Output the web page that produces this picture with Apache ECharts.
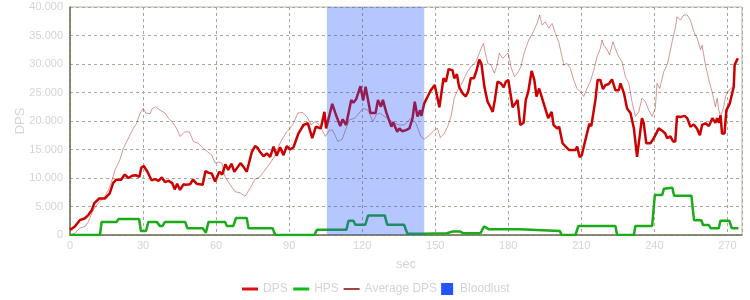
<!DOCTYPE html>
<html>
<head>
<meta charset="utf-8">
<script src="https://cdn.jsdelivr.net/npm/echarts@6/dist/echarts.min.js"></script>
<style>html,body{margin:0;padding:0;background:#fff}#c{width:750px;height:300px}</style>
</head>
<body>
<div id="c"></div>
<script>
// ---- data ----
var dpsSec = [0,2,4,6,7.5,9,10,12,14.3,16.3,17.7,19,21,22.5,24,25.5,27,28.5,29.3,30.3,31.8,33.5,35,36.3,37.7,39,40.5,42,43,44,45.2,46.6,47.5,49.3,50.5,52,54.5,55.6,57,58.2,59.6,61.3,62.5,63.8,65,66.3,67.5,69,70,71.2,72.6,74.7,76,77.2,78,79.5,80.8,82.2,83.6,84.9,86.3,87.7,89,90.4,91.8,93.8,95.9,97.7,99.5,101,103,104.5,105.2,107.7,109.3,111,112,113.4,115.5,116.4,117.5,119.3,120.4,121.4,123.4,125.5,126.5,127.7,128.5,129.9,132,132.7,134.4,135.3,136.4,138,139.4,140.7,141.6,142.7,143.8,144.3,145.5,146.9,148.2,149.8,151.7,153.4,154.4,155.5,157.1,157.8,158.9,159.8,161.2,162.5,163.5,164.6,165.9,167,168.1,169,170.2,171.5,172.6,173.6,174.5,175.6,177,178.1,179,180,180.8,181.8,182.9,183.8,184.9,186.3,187.2,188.2,189.6,190.7,191.6,192.7,194.1,195.4,196.4,197.8,198.6,200,200.9,202.3,203.6,205,206.2,207.6,208.3,209.3,210.2,211.3,212.1,213.3,214.1,215.8,216.7,217.8,218.9,219.9,221.3,222.6,224,225.4,226.1,227.5,228.8,230.2,231.6,232.9,234.9,235.6,236.7,238.4,239.8,241.8,243.2,244.5,245.2,246.6,247.7,248.6,249.3,250.7,252.4,253.5,254.8,256.2,257.5,258.7,259.6,261,262.4,263.8,265.1,265.8,266.5,267.2,267.8,268.8,269.6,271,272.6,273,274.3];
var dpsVal = [900,1500,2600,2900,3500,4400,5600,6400,6400,7300,9100,9700,9700,10600,10000,10400,10500,10200,11800,12100,11100,9600,9800,9500,10100,9300,9500,9100,8000,9000,7900,8900,8800,8900,9700,9000,8800,11200,10900,10800,9400,11100,10600,12400,11400,12500,11100,12000,12600,12000,11100,14600,15600,15200,14600,13800,14300,13700,15500,13900,15400,14000,15600,15000,15400,17800,19300,19600,17000,19000,18700,21600,18700,23000,21000,19100,20300,19300,23700,23200,23800,26100,23600,26000,21400,21400,23700,22500,23700,21500,19000,19800,18100,18700,18200,18400,18700,20500,23400,20800,21900,20900,23100,24300,25400,26300,22400,27500,26900,29100,28900,27500,28200,26000,24900,24300,25100,27500,27500,28900,30800,30000,26000,23400,22500,21600,23700,26900,26600,25900,26900,27200,25100,22400,23100,23700,19300,19700,23700,25100,28800,27200,24300,25700,23700,21900,20500,21600,19300,18700,19000,16100,15500,14900,14900,14900,15500,13700,14000,16000,15700,19500,19100,23700,27200,27200,25600,26300,26500,27300,25400,25400,26600,24900,22200,21400,18700,13700,20500,19700,16100,16100,17000,18700,18300,17800,17000,17300,16400,16400,20800,20700,20900,20500,19000,19400,18700,17500,19300,19600,19100,20500,19700,20500,19700,21000,17800,17800,21900,23100,26000,29900,31000];

var hpsSec = [0,12.3,13,19.2,19.9,28.4,29.1,31.2,32.2,35.6,36.9,38,39,47.3,48.2,54.5,55.8,56.9,63.7,64.4,67.1,68.2,72.6,73.3,83.2,84.3,100.4,101.4,113.5,114.4,116.4,117.2,121.3,122.4,129.3,129.6,130.3,137.2,138.6,145,154.8,156.9,160.3,161.6,168.6,170,172.1,184.5,185.3,201.2,201.9,207.6,208.8,224,224.7,231.6,232.2,239.1,240.2,243.2,243.9,247.4,248.1,255.2,256.3,259.3,260,262.4,263.1,266.5,267.1,270.8,271.8,274.5];
var hpsVal = [0,0,2300,2300,2800,2800,700,700,2300,2300,1600,1600,2300,2300,1200,1200,400,2300,2300,1600,1600,3000,3000,1200,1200,0,0,900,900,2500,2500,1800,1800,3400,3400,3500,1800,1800,200,200,300,600,600,300,300,1500,1000,1000,700,700,0,0,1600,1600,0,0,1600,1600,7000,7000,8100,8300,6900,6900,2600,2600,1750,1750,1200,1200,2500,2500,1200,1200];

var avgSec = [0,2,4,6.2,7.5,9.6,11.6,13.7,15.8,17.1,18.5,20.5,21.9,24,26,27.4,28.8,30.1,31.1,32.9,33.8,35.2,37,39,40.4,42.5,44,45.2,47.2,49,50.7,52.7,54.8,56.5,58.2,59.6,61,62.4,63.7,65.8,67.8,69.9,71.9,74,76,78,80.1,82.2,84.3,85.6,87,89,90.4,91.8,93.6,95.6,97.7,99.1,100.5,101.8,103.2,104.9,106.6,107.9,110,111.8,113.4,114.8,116.9,118.2,120.3,122.4,124.4,125.8,127.2,129.2,131.3,133.3,135.4,137.3,140,142.1,144.1,145.5,147.6,149.6,150.9,152.1,153.7,155.1,156.5,157.8,159.2,160.6,163.3,164.7,166.7,168.1,169.1,169.8,170.6,171.6,172.9,174.3,175.4,176.3,177.7,179.1,180,181.1,182.5,183.8,185.2,186.5,188.4,190,191.8,192.9,193.9,195.2,196.6,198,199.3,200.7,202.1,202.8,204.1,205.5,206.9,208.2,209.6,211,212.3,213.7,215.1,216.5,217.8,218.5,219.2,220.6,221.6,223,224,225.3,226.7,228.1,229.5,230.8,232.2,233.6,234.9,236.3,237.7,239.1,240.4,241.1,242.2,243.9,245.2,245.9,247.3,248.7,249.3,250.7,252.1,253.5,254.8,256.2,257.6,259,259.6,261,262.4,263.7,265.1,265.8,266.5,267.2,268.5,269.2,270.6,272];
var avgVal = [0,300,1200,1500,2300,4400,5600,6400,7900,9400,11400,13200,15200,17000,18700,19600,21400,22200,21400,21300,22200,22500,21900,21400,20500,19600,18500,17300,18100,18100,16400,16100,15200,14600,14000,12600,12800,12600,10200,8800,7600,7400,6800,8200,9800,10200,11400,12600,14000,15500,16700,18100,18700,19600,21400,21500,20500,19300,19900,19600,18700,17300,18400,18400,16400,16800,18700,20200,20500,21100,22200,21900,19900,21100,21400,20800,20200,19600,19300,19300,20500,19600,17300,16800,17500,18400,18700,17100,17800,19000,20800,24000,25400,26300,28700,29500,30400,31900,33000,33600,31900,30100,29800,28400,29800,31900,31000,31600,31900,29500,27800,28400,29500,31900,34200,35400,37100,38600,36800,37400,36300,37100,35400,33900,31300,29800,30100,29200,27200,25700,25100,24300,25700,26900,28900,31300,32700,34200,33300,32500,31600,33900,32700,31300,30400,27800,26600,23400,20800,21600,24000,23400,21900,20800,22200,26600,25700,28700,29800,31000,33900,36500,38300,37700,38600,38600,37700,35700,34500,32500,33300,29800,27200,25100,22500,24000,21900,20800,22500,24300,25400,25900];

var bloodlustStart = 105.5, bloodlustEnd = 145.5;
var xTicks = {min:0, max:276, interval:30};
var yTicks = {min:0, max:40000, interval:5000};

function pairs(xs, ys){ return xs.map(function(x,i){ return [x, ys[i]]; }); }
function fmt(v){ return String(v).replace(/\B(?=(\d{3})+(?!\d))/g, '.'); }

var chart = echarts.init(document.getElementById('c'), null, {renderer:'canvas'});
var lblColor = '#d4d4d4';
var hideSym = {color:'rgba(0,0,0,0)', borderWidth:0, opacity:0};
chart.setOption({
  animation: false,
  backgroundColor: '#fff',
  grid: {left:70, right:8, top:7, bottom:65, show:true, borderColor:'#b8b8a8', borderWidth:1, backgroundColor:'transparent'},
  legend: {
    bottom: 0, left: 'center', itemWidth: 16, itemHeight: 12, itemGap: 4,
    textStyle: {color: lblColor, fontSize: 12, fontFamily: 'Liberation Sans, Arial'},
    data: [
      {name:'DPS', itemStyle:hideSym, lineStyle:{color:'#dd1111', width:3}},
      {name:'HPS', itemStyle:hideSym, lineStyle:{color:'#11bb11', width:3}},
      {name:'Average DPS', itemStyle:hideSym, lineStyle:{color:'#8b0000', opacity:1, width:1.5}},
      {name:'Bloodlust', icon:'path://M0,0H10V10H0Z', itemStyle:{color:'#2255ff'}}
    ]
  },
  xAxis: {
    type:'value', min:xTicks.min, max:xTicks.max, interval:xTicks.interval,
    name:'sec', nameLocation:'middle', nameGap:23,
    nameTextStyle:{color:lblColor, fontSize:13, fontFamily:'Liberation Sans, Arial'},
    axisLine:{show:true, lineStyle:{color:'#707058', width:1.5}},
    axisTick:{show:false},
    axisLabel:{color:lblColor, fontSize:11, margin:5, showMaxLabel:false, fontFamily:'Liberation Sans, Arial'},
    splitLine:{show:true, lineStyle:{color:'#a8a898', type:[3,3], width:1}}
  },
  yAxis: {
    type:'value', min:yTicks.min, max:yTicks.max, interval:yTicks.interval,
    name:'DPS', nameLocation:'middle', nameGap:43, nameMoveOverlap:false,
    nameTextStyle:{color:lblColor, fontSize:13, fontFamily:'Liberation Sans, Arial'},
    axisLine:{show:true, lineStyle:{color:'#707058', width:1.5}},
    axisTick:{show:false},
    axisLabel:{color:lblColor, fontSize:11, margin:7, formatter:fmt, fontFamily:'Liberation Sans, Arial'},
    splitLine:{show:true, lineStyle:{color:'#a8a898', type:[3,3], width:1}}
  },
  series: [
    {name:'Average DPS', type:'line', symbol:'none', z:2, data:pairs(avgSec, avgVal),
     itemStyle:{color:'#8b0000'}, lineStyle:{color:'#8b0000', width:1, opacity:0.4}},
    {name:'DPS', type:'line', symbol:'none', z:3, data:pairs(dpsSec, dpsVal),
     itemStyle:{color:'#cc0000'}, lineStyle:{color:'#cc0000', width:2.5}},
    {name:'HPS', type:'line', symbol:'none', z:3, data:pairs(hpsSec, hpsVal),
     itemStyle:{color:'#1aaa1a'}, lineStyle:{color:'#1aaa1a', width:2.5}},
    {name:'Bloodlust', type:'line', symbol:'none', z:10, data:[],
     itemStyle:{color:'#2255ff'}, lineStyle:{color:'#2255ff'},
     markArea:{silent:true, z:10, itemStyle:{color:'rgba(34,85,255,0.33)'},
       data:[[{xAxis:bloodlustStart},{xAxis:bloodlustEnd}]]}}
  ]
});
</script>
</body>
</html>
